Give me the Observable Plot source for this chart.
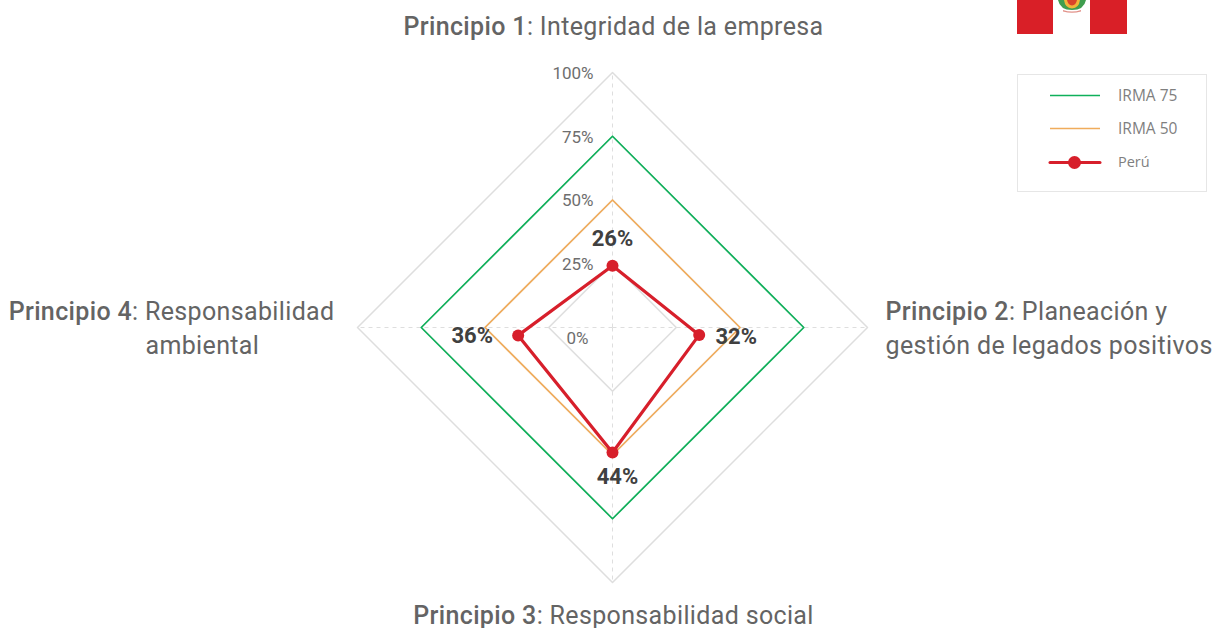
<!DOCTYPE html>
<html><head><meta charset="utf-8">
<script src="https://cdn.jsdelivr.net/npm/d3@7"></script>
<script src="https://cdn.jsdelivr.net/npm/@observablehq/plot@0.6"></script>
<style>
html,body{margin:0;padding:0;background:#fff;overflow:hidden}
#wrap{position:relative;width:1219px;height:628px}
#wrap>svg.plot{display:block}
#flag{position:absolute;left:1017px;top:0}
#legend{position:absolute;left:1017px;top:74px;width:188px;height:116px;border:1px solid #e6e6e6;font:15.5px "Open Sans",sans-serif;color:#7f7f7f}
#legend svg{position:absolute;left:0;top:0}
#legend span{position:absolute;left:100px;line-height:20px}
#legend span:last-of-type{font-size:14.5px}
.cat text{letter-spacing:.35px}
</style></head><body><div id="wrap"></div>
<script>
const levels = [0, 25, 50, 75, 100];
const gridLevels = [25, 50, 75, 100];
const dirX = [0, 1, 0, -1];
const dirY = [1, 0, -1, 0];
const irma75 = [75, 75, 75, 75];
const irma50 = [50, 50, 50, 50];
const peruX = [0, 34, 0, -37];
const peruY = [24.2, -2.9, -49, -3.1];
const peruLabels = ["26%", "32%", "44%", "36%"];
const legendItems = ["IRMA 75", "IRMA 50", "Perú"];

const GRID = "#dedede", GREEN = "#0fb05a", ORANGE = "#f0ac5c", RED = "#d71f2b";
const ring = v => [0,1,2,3,0].map(i => ({x: dirX[i]*v[i], y: dirY[i]*v[i]}));
const peruRing = [0,1,2,3,0].map(i => ({x: peruX[i], y: peruY[i]}));
const peruPts = peruRing.slice(0,4).map((d,i)=>({...d,label:peruLabels[i]}));

const labelFont = {fontFamily:"Roboto", fontSize:25, fill:"#646464", stroke:"none"};
const catMarks = [
  [["Principio 1: Integridad de la empresa"], 0, 100, "middle", 1, -46],
  [["Principio 2: Planeación y"], 100, 0, "start", 18, -16],
  [["gestión de legados positivos"], 100, 0, "start", 18, 18],
  [["Principio 3: Responsabilidad social"], 0, -100, "middle", 1, 33],
  [["Principio 4: Responsabilidad"], -100, 0, "end", -23, -16],
  [["ambiental"], -100, 0, "start", -212, 18]
].map(([t,x,y,a,dx,dy]) => Plot.text(t,{x:()=>x,y:()=>y,text:d=>d,textAnchor:a,dx,dy,className:"cat",...labelFont}));

const valueOff = [[0,-27],[37,2],[5,25],[-46,1]];
const valueMarks = peruPts.map((d,i)=>Plot.text([d],{x:"x",y:"y",text:"label",dx:valueOff[i][0],dy:valueOff[i][1],
  fontFamily:"Roboto",fontSize:22,fontWeight:700,fill:"#404040"}));

const tickMarks = levels.map(v=>Plot.text([v],{x:()=>0,y:d=>d,text:d=>d+"%",textAnchor:"end",
  dx:v===0?-24:-19,dy:v===0?11:1,fontFamily:"Roboto",fontSize:17,fill:"#6e6e6e"}));

const S = 2.55;
const chart = Plot.plot({
  width:1219,height:628,margin:0,
  x:{domain:[-612/S,607/S],range:[0,1219],axis:null},
  y:{domain:[-301/S,327/S],range:[628,0],axis:null},
  marks:[
    Plot.link([0,1,2,3],{x1:()=>0,y1:()=>0,x2:i=>dirX[i]*100,y2:i=>dirY[i]*100,stroke:GRID,strokeWidth:1,strokeDasharray:"4 4"}),
    ...gridLevels.map(l=>Plot.line(ring([l,l,l,l]),{x:"x",y:"y",stroke:GRID,strokeWidth:1.5})),
    Plot.line(ring(irma75),{x:"x",y:"y",stroke:GREEN,strokeWidth:1.7}),
    Plot.line(ring(irma50),{x:"x",y:"y",stroke:ORANGE,strokeWidth:1.7}),
    ...tickMarks,
    Plot.line(peruRing,{x:"x",y:"y",stroke:RED,strokeWidth:3.2}),
    Plot.dot(peruPts,{x:"x",y:"y",r:6,fill:RED,stroke:"none"}),
    ...valueMarks,
    ...catMarks
  ]
});
chart.style.background="#fff";
d3.select(chart).selectAll(".cat text").each(function(){
  const s=this.textContent, m=s.match(/^(Principio \d)(: .*)$/);
  if(!m) return;
  const sel=d3.select(this); sel.text(null);
  sel.append("tspan").attr("font-weight",500).text(m[1]);
  sel.append("tspan").text(m[2]);
});
const wrap=document.getElementById("wrap");
wrap.appendChild(chart);

wrap.insertAdjacentHTML("beforeend",`
<svg id="flag" width="110" height="34" viewBox="0 0 110 34">
  <rect x="0" y="0" width="36" height="34" fill="#d91f27"/>
  <rect x="73" y="0" width="37" height="34" fill="#d91f27"/>
  <path d="M41 0 Q43 10 55 10 Q67 10 69 0Z" fill="#3f9e4f"/>
  <path d="M47 0 Q48 8 55 8.5 Q62 8 63 0Z" fill="#f0b53a"/>
  <path d="M50 0 Q51 5 55 5.5 Q59 5 60 0Z" fill="#d9432a"/>
  <path d="M46 10 Q55 13 64 10 L64 11.5 Q55 14 46 11.5Z" fill="#e2928a"/>
</svg>`);
const leg=document.createElement("div"); leg.id="legend";
const ys=[21,54,88], cols=[GREEN,ORANGE,RED];
leg.innerHTML=`<svg width="188" height="116">`+ys.map((y,i)=>
 `<line x1="32" x2="82" y1="${y-0.5}" y2="${y-0.5}" stroke="${cols[i]}" stroke-width="${i==2?3:1.5}" stroke-linecap="${i==2?'round':'butt'}"/>`+
 (i==2?`<circle cx="56.5" cy="${y-0.5}" r="6.5" fill="${RED}"/>`:"")).join("")+`</svg>`+
 legendItems.map((t,i)=>`<span style="top:${ys[i]-11}px">${t}</span>`).join("");
wrap.appendChild(leg);
</script></body></html>
